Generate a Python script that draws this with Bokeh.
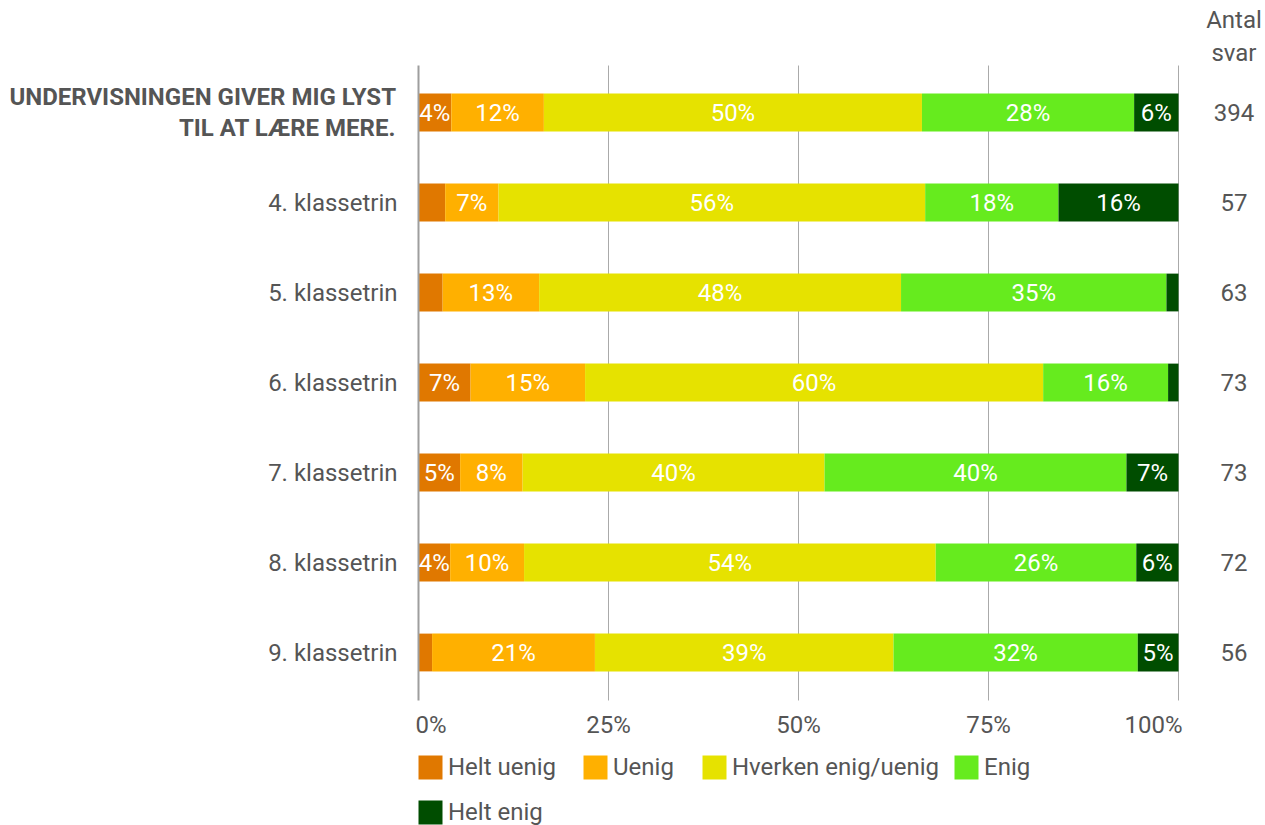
from bokeh.plotting import figure
from bokeh.models import ColumnDataSource, Range1d, Legend, LegendItem
from bokeh.core.properties import value
from bokeh.embed import file_html
from bokeh.resources import INLINE

# ---- data ----
categories = ["UNDERVISNINGEN GIVER MIG LYST\nTIL AT LÆRE MERE.", "4. klassetrin",
              "5. klassetrin", "6. klassetrin", "7. klassetrin", "8. klassetrin",
              "9. klassetrin"]
antal_svar = [394, 57, 63, 73, 73, 72, 56]
helt_uenig = [17, 2, 2, 5, 4, 3, 1]
uenig = [48, 4, 8, 11, 6, 7, 12]
hverken = [196, 32, 30, 44, 29, 39, 22]
enig = [110, 10, 22, 12, 29, 19, 18]
helt_enig = [23, 9, 1, 1, 5, 4, 3]

series_names = ["Helt uenig", "Uenig", "Hverken enig/uenig", "Enig", "Helt enig"]
series_counts = [helt_uenig, uenig, hverken, enig, helt_enig]
colors = ["#E07800", "#FFB000", "#E6E200", "#66EB1E", "#004D00"]
x_ticks = [0, 25, 50, 75, 100]
x_tick_labels = ["0%", "25%", "50%", "75%", "100%"]
count_header = "Antal\nsvar"

# ---- styling / layout ----
FONT = "Roboto"
TXT = "#555555"
FS = "24px"
W, H = 1265, 825
PX_LEFT, PX_PER_PCT = 418, 7.6      # frame position of 0 % and px per percent
PX_ROW0, PX_PER_ROW = 112, 90       # centre of first row and row pitch
# legend item screen positions (x of swatch box, offset from bottom)
LEGEND_POS = [(415, 43), (580, 43), (699, 43), (951, 43), (415, -2)]

rows = list(range(len(categories)))
keys = ["s%d" % i for i in range(len(series_names))]

data = {"y": rows}
for k, cnts in zip(keys, series_counts):
    data[k] = [c / n * 100 for c, n in zip(cnts, antal_svar)]
source = ColumnDataSource(data)

p = figure(width=W, height=H, output_backend="svg", toolbar_location=None,
           x_range=Range1d(-PX_LEFT / PX_PER_PCT, (W - PX_LEFT) / PX_PER_PCT),
           y_range=Range1d((H - PX_ROW0) / PX_PER_ROW, -PX_ROW0 / PX_PER_ROW),
           x_axis_location=None, y_axis_location=None, min_border=0)
p.outline_line_color = None
p.background_fill_color = "white"
p.border_fill_color = "white"
p.grid.visible = False

y_top, y_bot = -0.522, len(rows) - 0.467

# vertical grid lines
gl = [t for t in x_ticks if t != 0]
p.segment(x0=gl, x1=gl, y0=[y_top] * len(gl), y1=[y_bot] * len(gl),
          line_color="#AAAAAA", line_width=1)

# stacked bars
bars = p.hbar_stack(keys, y="y", height=0.42, color=colors, source=source, line_color=None)

# axis line at 0 %
p.segment(x0=[0], x1=[0], y0=[y_top], y1=[y_bot], line_color="#9E9E9E", line_width=2)

# segment labels
lx, ly, lt = [], [], []
for r in rows:
    left = 0.0
    for k in keys:
        v = data[k][r]
        if v >= 4:
            lx.append(left + v / 2)
            ly.append(r)
            lt.append("%d%%" % int(v + 0.5))
        left += v
p.text(x=lx, y=ly, text=lt, text_color="white", text_font=value(FONT),
       text_font_size=FS, text_align="center", text_baseline="middle")

# x tick labels
n_t = len(x_ticks)
p.text(x=x_ticks, y=[y_bot + 0.27] * n_t, text=x_tick_labels,
       text_align=["left"] + ["center"] * (n_t - 2) + ["right"],
       x_offset=[-3] + [0] * (n_t - 2) + [4],
       text_baseline="middle", text_color=TXT, text_font=value(FONT), text_font_size=FS)

# category labels
cat_x = -2.76
p.text(x=[cat_x] * (len(rows) - 1), y=rows[1:], text=categories[1:], text_align="right",
       text_baseline="middle", text_color=TXT, text_font=value(FONT), text_font_size=FS)
p.text(x=[cat_x - 0.2], y=[rows[0]], text=[categories[0]], text_align="right",
       text_baseline="middle", text_color=TXT, text_font=value(FONT), text_font_size=FS,
       text_font_style="bold", text_line_height=1.1)

# count column + header
cnt_x = 107.3
p.text(x=[cnt_x] * len(rows), y=rows, text=[str(n) for n in antal_svar],
       text_align="center", text_baseline="middle", text_color=TXT,
       text_font=value(FONT), text_font_size=FS)
p.text(x=[cnt_x], y=[-0.845], text=[count_header], text_align="center",
       text_baseline="middle", text_color=TXT, text_font=value(FONT), text_font_size=FS,
       text_line_height=1.17)

# legend swatches: zero-width bars that only carry the swatch style
dummy = [p.hbar(y=[rows[0]], left=[0], right=[0], height=0.4, fill_color=c,
                line_color=None, border_radius=3) for c in colors]

for i, name in enumerate(series_names):
    lg = Legend(items=[LegendItem(label=name, renderers=[dummy[i]])],
                location=LEGEND_POS[i], orientation="horizontal",
                glyph_width=30, glyph_height=30, label_height=30, label_standoff=3,
                padding=0, margin=0, label_text_font=FONT, label_text_font_size=FS,
                label_text_color=TXT, border_line_alpha=0, background_fill_alpha=0)
    p.add_layout(lg, "center")

open("out.html", "w").write(file_html(p, INLINE))
